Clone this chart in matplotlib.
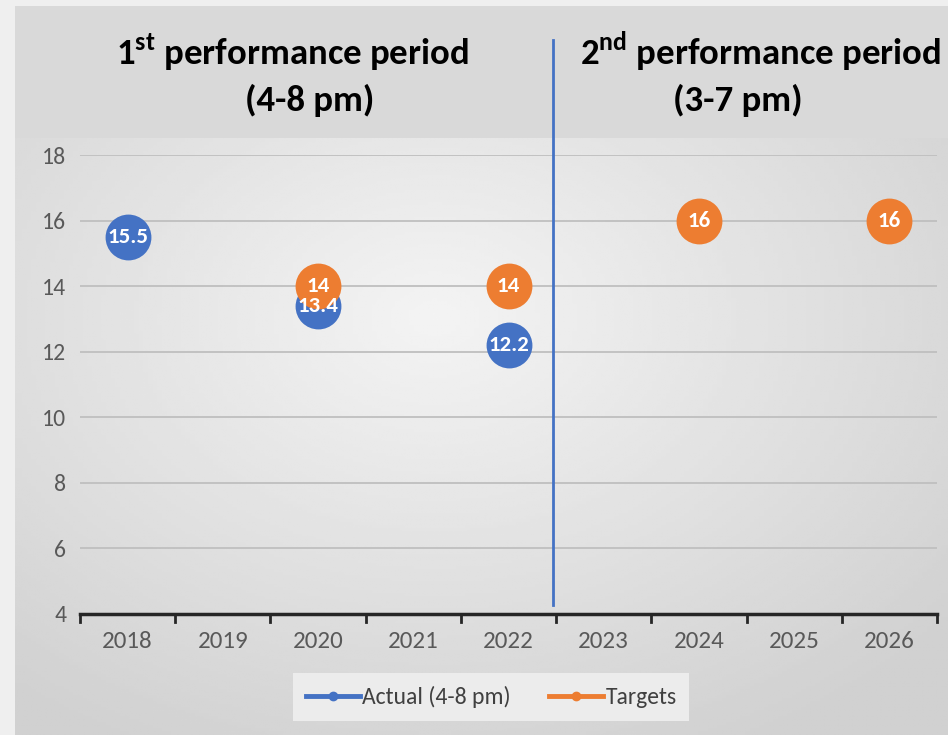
import numpy as np
import matplotlib.pyplot as plt
from matplotlib import font_manager
from matplotlib.lines import Line2D

years = ["2018", "2019", "2020", "2021", "2022", "2023", "2024", "2025", "2026"]
actual = [15.5, None, 13.4, None, 12.2, None, None, None, None]
targets = [None, None, 14, None, 14, None, 16, None, 16]
y_ticks = [4, 6, 8, 10, 12, 14, 16, 18]

BLUE = "#4472C4"
ORANGE = "#ED7D31"

# Calibri look-alike if there is one
installed = {f.name for f in font_manager.fontManager.ttflist}
main_font = "DejaVu Sans"
for cand in ["Carlito", "Liberation Sans Narrow", "Open Sans Condensed",
             "Roboto Condensed", "PT Sans Narrow", "Archivo Narrow"]:
    if cand in installed:
        main_font = cand
        break
FONT = [main_font, "DejaVu Sans"]
narrow = main_font != "DejaVu Sans"
k = 1.0 if narrow else 0.8

plt.rcParams["font.family"] = FONT
plt.rcParams["mathtext.fontset"] = "custom"
plt.rcParams["mathtext.bf"] = main_font + ":bold"
plt.rcParams["mathtext.rm"] = main_font

W, H = 948, 735
fig = plt.figure(figsize=(W / 100, H / 100), dpi=100)

# background: light left strip, gray title band, gradient chart area
bg = fig.add_axes([0, 0, 1, 1], zorder=-10)
bg.add_patch(plt.Rectangle((0, 0), W, H, color="#efefef", lw=0, zorder=0))
xx, yy = np.meshgrid(np.linspace(0, 1, 200), np.linspace(0, 1, 200))
r = np.sqrt(((xx - 0.45) / 0.9) ** 2 + ((yy - 0.3) / 1.0) ** 2)
grad = np.clip(0.955 - 0.17 * r, 0.82, 0.96)
bg.imshow(grad, cmap="gray", vmin=0, vmax=1, extent=(15, W, H, 138),
          aspect="auto", zorder=1)
bg.add_patch(plt.Rectangle((15, 6), W - 15, 132, color="#d9d9d9", lw=0, zorder=2))
bg.set_xlim(0, W)
bg.set_ylim(H, 0)
bg.axis("off")

ax = fig.add_axes([80 / W, 1 - 614 / H, 857 / W, 459 / H])
ax.set_facecolor("none")
x = np.arange(len(years))

a = np.array([np.nan if v is None else v for v in actual])
t = np.array([np.nan if v is None else v for v in targets])

lab_fs = 16.5 * k
ax.plot(x, a, "-o", color=BLUE, ms=33, lw=3, mew=0, zorder=3)
ax.plot(x, t, "-o", color=ORANGE, ms=33, lw=3, mew=0, zorder=4)
for xi, v in zip(x, a):
    if not np.isnan(v):
        ax.text(xi, v, f"{v:g}", color="white", fontsize=lab_fs, fontweight="bold",
                ha="center", va="center", zorder=6)
for xi, v in zip(x, t):
    if not np.isnan(v):
        ax.text(xi, v, f"{v:g}", color="white", fontsize=lab_fs, fontweight="bold",
                ha="center", va="center", zorder=6)

ax.set_xlim(-0.5, len(years) - 0.5)
ax.set_ylim(4, 18)
ax.set_yticks(y_ticks)
ax.set_yticklabels([str(v) for v in y_ticks], color="#595959", fontsize=17 * k)
ax.set_xticks(x)
ax.set_xticklabels(years, color="#595959", fontsize=18 * k)
ax.tick_params(axis="y", length=0, pad=10)
ax.tick_params(axis="x", length=0, pad=12)
for yv in y_ticks[1:]:
    ax.axhline(yv, color="#bfbfbf", lw=1.3, zorder=1)
for s in ["top", "right", "left"]:
    ax.spines[s].set_visible(False)
ax.spines["bottom"].set_linewidth(2.5)
ax.spines["bottom"].set_color("#262626")
# category boundary tick marks
for b in np.arange(-0.5, len(years), 1.0):
    ax.plot([b, b], [0, -0.018], transform=ax.get_xaxis_transform(),
            color="#262626", lw=2, clip_on=False)

# divider between periods
ax.axvline(4.47, ymin=(614 - 605) / 459, ymax=(614 - 40) / 459,
           color=BLUE, lw=2, clip_on=False, zorder=5)

# period headings
hfs = 26.5 * k
fig.text(292 / W, 1 - 52 / H, r"1$^{\mathbf{st}}$ performance period", ha="center",
         va="center", fontsize=hfs, fontweight="bold", color="black")
fig.text(310 / W, 1 - 100 / H, "(4-8 pm)", ha="center", va="center",
         fontsize=hfs, fontweight="bold", color="black")
fig.text(580 / W, 1 - 52 / H, r"2$^{\mathbf{nd}}$ performance period", ha="left",
         va="center", fontsize=hfs, fontweight="bold", color="black")
fig.text(738 / W, 1 - 100 / H, "(3-7 pm)", ha="center", va="center",
         fontsize=hfs, fontweight="bold", color="black")

handles = [
    Line2D([], [], color=BLUE, lw=3.5, marker="o", ms=6),
    Line2D([], [], color=ORANGE, lw=3.5, marker="o", ms=6),
]
leg = fig.legend(handles, ["Actual (4-8 pm)", "Targets"], loc="center",
                 bbox_to_anchor=(491 / W, 1 - 697 / H), ncol=2, frameon=True,
                 fontsize=17 * k, handlelength=2.3, handletextpad=0.1,
                 columnspacing=1.6, borderpad=0.55, fancybox=False)
leg.get_frame().set_facecolor("#ececec")
leg.get_frame().set_edgecolor("none")
leg.get_frame().set_alpha(1)
for txt in leg.get_texts():
    txt.set_color("#404040")

fig.savefig("out.png", dpi=100)
